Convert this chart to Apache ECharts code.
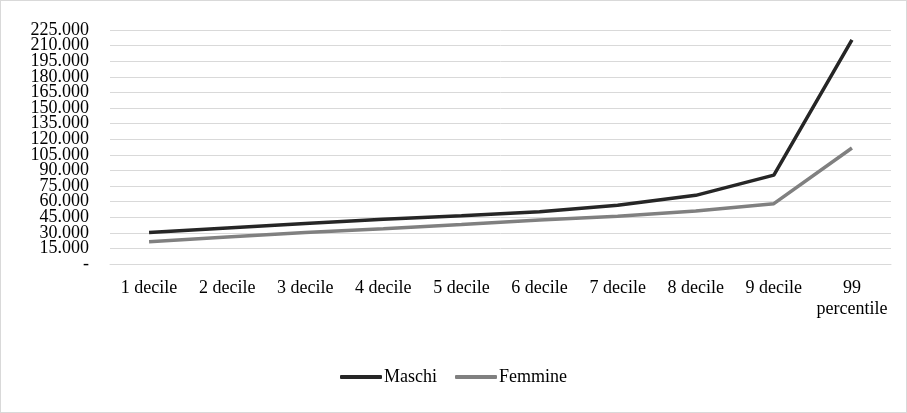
<!DOCTYPE html>
<html><head><meta charset="utf-8">
<script src="https://cdn.jsdelivr.net/npm/echarts@6/dist/echarts.min.js"></script>
<style>
html,body{margin:0;padding:0;background:#fff;}
#c{position:absolute;left:0;top:0;width:905px;height:411px;border:1px solid #d9d9d9;}
</style></head>
<body><div id="c"></div>
<script>
const categories = ['1 decile','2 decile','3 decile','4 decile','5 decile','6 decile','7 decile','8 decile','9 decile','99 percentile'];
const maschi = [30300, 34700, 39000, 43000, 46500, 50300, 56500, 66000, 85500, 215500];
const femmine = [21500, 26000, 30300, 34000, 38000, 42300, 46000, 51000, 58000, 111500];
const yMin = 0, yMax = 225000, yStep = 15000;

const chart = echarts.init(document.getElementById('c'));
const font = 'Liberation Serif';
const fmtY = v => v === 0 ? '-' : (v/1000).toFixed(0) + '.000';
function yAxisPart(parity, showGrid) {
  return {
    type:'value', min:yMin, max:yMax, interval:yStep, position:'left', offset:0,
    axisLine:{show:false}, axisTick:{show:false},
    splitLine:{show:showGrid, lineStyle:{color:'#d9d9d9', width:1}},
    axisLabel:{fontFamily:font, fontSize:18, color:'#000', margin:21,
      showMinLabel:true, showMaxLabel:true,
      formatter:v => (Math.round(v / yStep) % 2 === parity) ? fmtY(v) : ''}
  };
}
chart.setOption({
  animation:false,
  grid:{left:109, right:15, top:29, bottom:148, containLabel:false},
  legend:{
    top:362, left:'center',
    data:['Maschi','Femmine'],
    icon:'roundRect', itemWidth:42, itemHeight:4, itemGap:18,
    textStyle:{fontFamily:font, fontSize:18, color:'#000', padding:[0,0,0,-3]}
  },
  xAxis:{
    type:'category', data:categories, boundaryGap:true,
    axisLine:{show:true, lineStyle:{color:'#d9d9d9'}},
    axisTick:{show:false},
    axisLabel:{fontFamily:font, fontSize:18, color:'#000', margin:14, interval:0, lineHeight:21,
      formatter:v => v.length > 10 ? v.replace(' ', '\n') : v}
  },
  yAxis:[yAxisPart(0, true), yAxisPart(1, false)],
  series:[
    {name:'Maschi', type:'line', data:maschi, yAxisIndex:0, showSymbol:false, symbol:'none',
     lineStyle:{color:'#262626', width:3.5}, itemStyle:{color:'#262626'}},
    {name:'Femmine', type:'line', data:femmine, yAxisIndex:0, showSymbol:false, symbol:'none',
     lineStyle:{color:'#808080', width:3.5}, itemStyle:{color:'#808080'}}
  ]
});
</script></body></html>
